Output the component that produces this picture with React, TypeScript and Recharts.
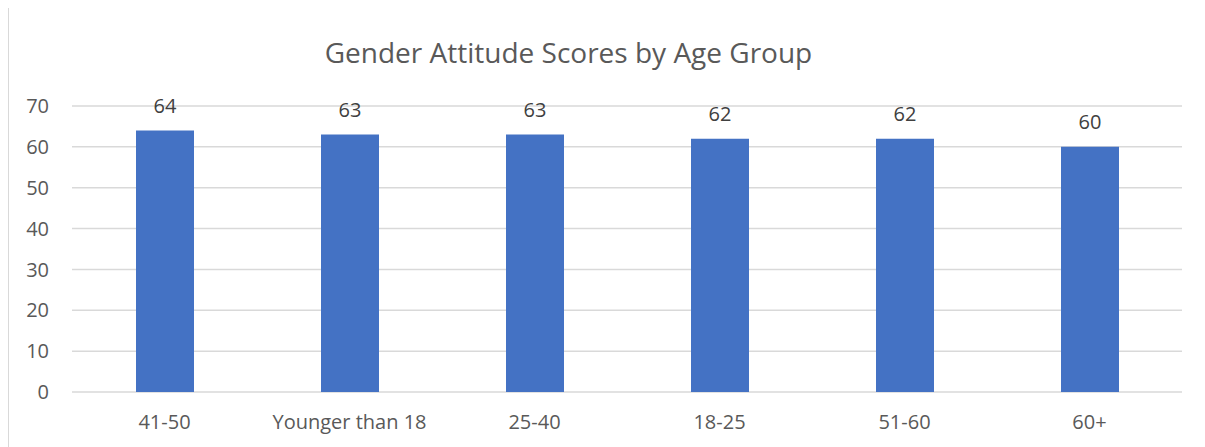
import { Bar, BarChart, CartesianGrid, LabelList, XAxis, YAxis } from "recharts";

const AGE_GROUPS = ["41-50", "Younger than 18", "25-40", "18-25", "51-60", "60+"];
const SCORES = [64, 63, 63, 62, 62, 60];
const Y_TICKS = [0, 10, 20, 30, 40, 50, 60, 70];

const FONT = '"Open Sans", sans-serif';
const BAR_BLUE = "#4472C4";
const GREY_TEXT = "#595959";

const data = AGE_GROUPS.map((group, i) => ({ group, score: SCORES[i] }));

export default function App() {
  return (
    <div
      style={{
        position: "relative",
        margin: "-1px 0 0 -1px",
        width: 1220,
        height: 460,
        borderTop: "1px solid #d9d9d9",
        borderLeft: "2px solid #d9d9d9",
        fontFamily: FONT,
        background: "#fff",
      }}
    >
      <div
        style={{
          position: "absolute",
          left: -1,
          top: 25,
          width: 1121,
          textAlign: "center",
          fontSize: 28,
          lineHeight: "38px",
          color: GREY_TEXT,
        }}
      >
        Gender Attitude Scores by Age Group
      </div>
      <BarChart
        width={1200}
        height={440}
        data={data}
        margin={{ top: 98, right: 26, bottom: 26, left: 0 }}
        style={{ fontFamily: FONT, marginLeft: -1 }}
      >
        <CartesianGrid vertical={false} stroke="#d9d9d9" strokeWidth={1.5} />
        <XAxis
          dataKey="group"
          axisLine={false}
          tickLine={false}
          tickSize={0}
          tickMargin={23}
          height={30}
          interval={0}
          tick={{ fill: GREY_TEXT, fontSize: 20, fontFamily: FONT }}
        />
        <YAxis
          domain={[0, 70]}
          ticks={Y_TICKS}
          axisLine={false}
          tickLine={false}
          tickSize={0}
          tickMargin={23}
          width={64}
          tick={{ fill: GREY_TEXT, fontSize: 20, fontFamily: FONT }}
        />
        <Bar dataKey="score" fill={BAR_BLUE} barSize={58} isAnimationActive={false}>
          <LabelList
            dataKey="score"
            position="top"
            offset={18}
            fill="#404040"
            fontSize={20}
            fontFamily={FONT}
          />
        </Bar>
      </BarChart>
    </div>
  );
}
